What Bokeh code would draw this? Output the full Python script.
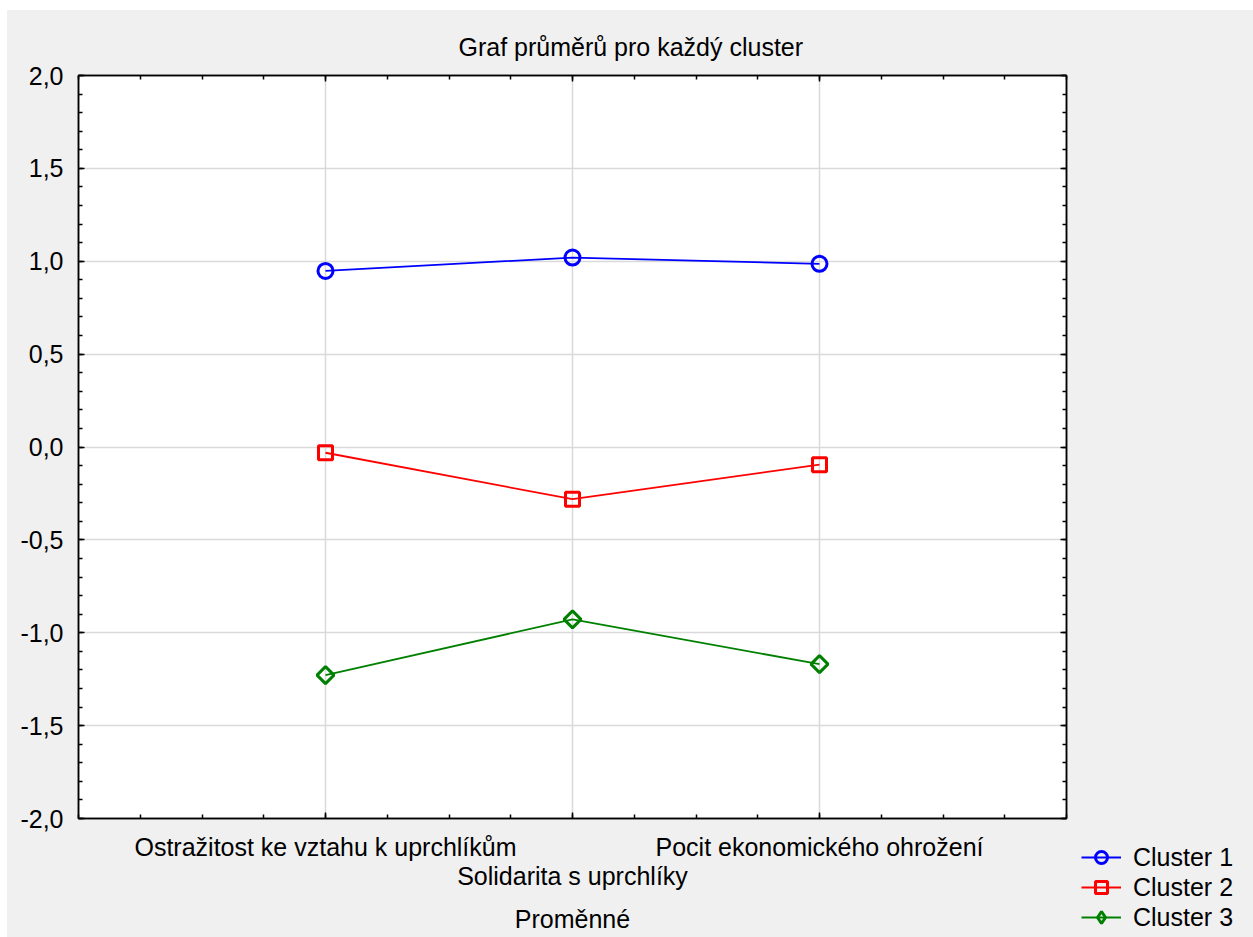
import numpy as np
from bokeh.plotting import figure
from bokeh.layouts import row
from bokeh.models import (Range1d, LinearAxis, FixedTicker, CustomJSTickFormatter,
                          Legend, LegendItem)
from bokeh.embed import file_html
from bokeh.resources import INLINE

# ---- data -------------------------------------------------------------
title_text = "Graf průměrů pro každý cluster"
x_axis_title = "Proměnné"
variables = ["Ostražitost ke vztahu k uprchlíkům",
             "Solidarita s uprchlíky",
             "Pocit ekonomického ohrožení"]
cluster_names = ["Cluster 1", "Cluster 2", "Cluster 3"]
cluster1 = [0.948, 1.020, 0.986]
cluster2 = [-0.031, -0.281, -0.095]
cluster3 = [-1.228, -0.928, -1.169]
y_ticks = [-2.0, -1.5, -1.0, -0.5, 0.0, 0.5, 1.0, 1.5, 2.0]

# ---- styles -----------------------------------------------------------
FONT = "Liberation Sans"
FS = "25px"
colors = ["#0000ff", "#ff0000", "#008000"]
markers = ["circle", "square", "square"]
legend_markers = ["circle", "square", "diamond"]
angles = [0.0, 0.0, np.pi / 4]
msizes = [15, 14, 12]
BG = "#f0f0f0"

x = list(range(1, len(variables) + 1))
xmax = len(variables) + 1

p = figure(width=1069, height=927, output_backend="svg", toolbar_location=None,
           x_range=Range1d(0, xmax), y_range=Range1d(y_ticks[0], y_ticks[-1]),
           min_border_left=71, min_border_right=10, min_border_top=65,
           min_border_bottom=119, title=title_text, margin=0)

p.border_fill_color = BG
p.background_fill_color = "white"
p.outline_line_color = "black"
p.outline_line_width = 1.5

p.title.text_font = FONT
p.title.text_font_size = FS
p.title.text_font_style = "normal"
p.title.text_color = "black"
p.title.align = "left"
p.title.offset = 380
p.title.standoff = 30

xt = FixedTicker(ticks=x, minor_ticks=[i * 0.25 for i in range(0, 4 * xmax + 1)])
yt = FixedTicker(ticks=y_ticks,
                 minor_ticks=[round(v, 1) for v in np.arange(y_ticks[0], y_ticks[-1] + 0.01, 0.1)])

def style_axis(ax):
    ax.axis_line_color = "black"
    ax.axis_line_width = 1.5
    ax.major_tick_in = 6
    ax.major_tick_out = 0
    ax.minor_tick_in = 4
    ax.minor_tick_out = 0
    ax.major_tick_line_color = "black"
    ax.major_tick_line_width = 1.5
    ax.minor_tick_line_color = "black"
    ax.minor_tick_line_width = 1.5
    ax.major_label_text_font = FONT
    ax.major_label_text_font_size = FS
    ax.major_label_text_color = "black"
    ax.axis_label_text_font = FONT
    ax.axis_label_text_font_size = FS
    ax.axis_label_text_font_style = "normal"
    ax.axis_label_text_color = "black"

# bottom axis (first and third labels)
xa = p.xaxis[0]
xa.ticker = xt
xa.major_label_overrides = {x[0]: variables[0], x[1]: "", x[2]: variables[2]}
style_axis(xa)
xa.major_label_standoff = 14

# second bottom axis (staggered middle label + axis title)
xa2 = LinearAxis(ticker=FixedTicker(ticks=[x[1]], minor_ticks=[]),
                 major_label_overrides={x[1]: variables[1]},
                 axis_label=x_axis_title)
style_axis(xa2)
xa2.axis_line_color = None
xa2.major_tick_line_color = None
xa2.minor_tick_line_color = None
xa2.major_label_standoff = -2
xa2.axis_label_standoff = 12
p.add_layout(xa2, "below")

# left axis
ya = p.yaxis[0]
ya.ticker = yt
ya.formatter = CustomJSTickFormatter(code="return tick.toFixed(1).replace('.', ',');")
style_axis(ya)
ya.major_label_standoff = 15

# mirrored axes without labels
empty = CustomJSTickFormatter(code="return '';")
ra = LinearAxis(ticker=yt, formatter=empty)
style_axis(ra)
ra.major_label_standoff = 0
ra.major_label_text_font_size = "0px"
p.add_layout(ra, "right")
ta = LinearAxis(ticker=xt, formatter=empty)
style_axis(ta)
ta.major_label_standoff = 0
ta.major_label_text_font_size = "0px"
p.add_layout(ta, "above")

p.xgrid.ticker = FixedTicker(ticks=x)
p.ygrid.ticker = FixedTicker(ticks=y_ticks)
for g in (p.xgrid, p.ygrid):
    g.grid_line_color = "#d9d9d9"
    g.grid_line_width = 1.5

# legend panel at the right (its own frame covers the whole panel)
LW = 1253 - 7 - 1069
lg = figure(width=LW, height=927, output_backend="svg", toolbar_location=None,
            x_range=Range1d(-20, -19), y_range=Range1d(-20, -19),
            x_axis_location=None, y_axis_location=None,
            min_border=0, margin=0, frame_width=LW, frame_height=927)
if "frame_align" in lg.properties():
    lg.frame_align = False
lg.border_fill_color = BG
lg.background_fill_color = BG
lg.outline_line_color = None
lg.grid.visible = False

items = []
for name, vals, c, m, lm, a, s in zip(cluster_names, [cluster1, cluster2, cluster3],
                                      colors, markers, legend_markers, angles, msizes):
    p.line(x, vals, line_color=c, line_width=1.8)
    p.scatter(x, vals, marker=m, angle=a, size=s, line_color=c, line_width=3,
              fill_color=None)
    # legend proxies (outside the legend panel's visible range)
    ln = lg.line(x, vals, line_color=c, line_width=1.8)
    sc = lg.scatter(x, vals, marker=lm, line_color=c, line_width=3,
                    fill_color=None)
    items.append(LegendItem(label=name, renderers=[ln, sc]))

legend = Legend(items=items, location=(5, 5), orientation="vertical",
                padding=0, margin=0, spacing=0, glyph_width=40, glyph_height=30,
                label_height=30, label_standoff=12, label_text_font=FONT,
                label_text_font_size=FS, label_text_color="black",
                background_fill_alpha=0, border_line_color=None)
lg.add_layout(legend, "center")

layout = row(p, lg, margin=(10, 0, 0, 7), styles={"background-color": BG})
open("out.html", "w").write(file_html(layout, INLINE))
